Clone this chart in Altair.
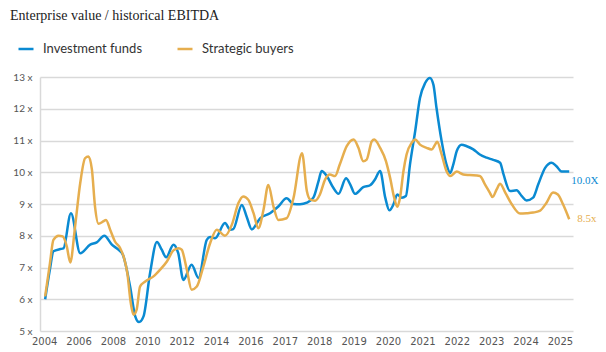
import altair as alt
import pandas as pd

title_text = "Enterprise value / historical EBITDA"
tick_labels = ["2004", "2006", "2008", "2010", "2012", "2014", "2016", "2017",
               "2018", "2019", "2020", "2021", "2022", "2023", "2024", "2025"]
series_names = ["Investment funds", "Strategic buyers"]
end_labels = ["10.0X", "8.5x"]

funds_pos = [0.03, 0.17, 0.27, 0.47, 0.56, 0.78, 1.05, 1.34, 1.53, 1.75, 1.97, 2.16, 2.29,
             2.5, 2.65, 2.76, 2.89, 3.08, 3.28, 3.42, 3.55, 3.76, 3.9, 4.05, 4.29, 4.49,
             4.73, 4.83, 4.97, 5.26, 5.41, 5.5, 5.75, 5.89, 6.04, 6.28, 6.57, 6.81, 7.05,
             7.25, 7.44, 7.64, 7.83, 7.98, 8.07, 8.22, 8.41, 8.56, 8.78, 8.9, 9.04, 9.28,
             9.48, 9.62, 9.77, 9.92, 10.04, 10.16, 10.27, 10.4, 10.52, 10.64, 10.79, 10.93,
             11.08, 11.22, 11.32, 11.41, 11.56, 11.7, 11.81, 11.9, 12.0, 12.14, 12.29,
             12.48, 12.67, 12.87, 13.06, 13.26, 13.36, 13.55, 13.74, 13.89, 14.03, 14.22,
             14.37, 14.57, 14.76, 14.9, 15.05, 15.27]
funds_val = [6.0, 6.95, 7.51, 7.58, 7.6, 8.71, 7.45, 7.72, 7.79, 8.0, 7.72, 7.56, 7.4,
             6.4, 5.46, 5.28, 5.46, 6.82, 7.8, 7.56, 7.32, 7.72, 7.45, 6.61, 7.09, 6.67,
             7.87, 7.96, 7.92, 8.4, 8.19, 8.21, 8.97, 8.6, 8.2, 8.55, 8.71, 8.92, 9.18,
             9.0, 8.99, 9.04, 9.2, 9.72, 10.04, 9.88, 9.51, 9.32, 9.81, 9.62, 9.32, 9.53,
             9.59, 9.77, 10.04, 9.2, 8.8, 8.99, 9.3, 9.2, 9.25, 10.25, 11.29, 12.34,
             12.81, 12.97, 12.76, 12.03, 10.98, 10.25, 9.98, 10.25, 10.67, 10.87, 10.82,
             10.72, 10.56, 10.46, 10.39, 10.3, 9.93, 9.41, 9.43, 9.25, 9.11, 9.2,
             9.62, 10.14, 10.3, 10.19, 10.02, 10.02]

buyers_pos = [0.03, 0.17, 0.27, 0.42, 0.54, 0.66, 0.76, 0.9, 1.05, 1.19, 1.29, 1.39, 1.48,
              1.58, 1.72, 1.8, 1.92, 2.06, 2.21, 2.31, 2.42, 2.52, 2.6, 2.69, 2.79, 2.94,
              3.18, 3.37, 3.57, 3.76, 3.91, 4.0, 4.15, 4.29, 4.44, 4.63, 4.83, 5.02, 5.26,
              5.46, 5.65, 5.79, 5.94, 6.09, 6.23, 6.38, 6.52, 6.67, 6.81, 7.05, 7.25, 7.5,
              7.64, 7.73, 7.88, 8.02, 8.17, 8.31, 8.46, 8.6, 8.8, 9.0, 9.14, 9.28, 9.38,
              9.53, 9.6, 9.77, 9.94, 10.06, 10.18, 10.27, 10.35, 10.45, 10.54, 10.69,
              10.79, 10.93, 11.12, 11.27, 11.37, 11.43, 11.56, 11.7, 11.81, 12.0, 12.19,
              12.38, 12.67, 12.82, 12.96, 13.04, 13.16, 13.26, 13.41, 13.6, 13.84, 14.03,
              14.22, 14.41, 14.61, 14.8, 14.94, 15.09, 15.27]
buyers_val = [6.09, 7.14, 7.87, 8.0, 7.98, 7.66, 7.16, 8.29, 9.66, 10.44, 10.5, 10.08, 8.92,
              8.38, 8.45, 8.5, 8.19, 7.82, 7.61, 7.35, 6.82, 5.88, 5.51, 5.67, 6.4, 6.56,
              6.72, 6.93, 7.19, 7.54, 7.61, 7.56, 6.93, 6.3, 6.4, 7.03, 7.77, 8.19, 8.0,
              8.35, 9.03, 9.24, 9.13, 8.71, 8.24, 8.82, 9.6, 8.92, 8.5, 8.55, 9.18, 10.6,
              9.41, 9.15, 9.1, 9.3, 9.77, 9.93, 9.88, 10.25, 10.82, 11.03, 10.77, 10.35, 10.4,
              10.98, 11.03, 10.77, 10.35, 9.83, 9.2, 8.91, 9.2, 10.04, 10.56, 10.93,
              11.03, 10.87, 10.77, 10.72, 10.87, 10.96, 10.56, 10.04, 9.88, 10.02, 9.93,
              9.91, 9.88, 9.62, 9.36, 9.22, 9.46, 9.64, 9.36, 8.99, 8.7, 8.71,
              8.73, 8.78, 9.04, 9.36, 9.3, 8.99, 8.52]

BLUE = "#0a8ad2"
GOLD = "#e6ae4e"

df = pd.concat([
    pd.DataFrame({"pos": funds_pos, "val": funds_val, "series": series_names[0]}),
    pd.DataFrame({"pos": buyers_pos, "val": buyers_val, "series": series_names[1]}),
])

x_scale = alt.Scale(domain=[-0.12, 15.38], nice=False, zero=False)
y_scale = alt.Scale(domain=[5, 13], nice=False, zero=False)
color_scale = alt.Scale(domain=series_names, range=[BLUE, GOLD])

label_expr = "[" + ",".join("'%s'" % t for t in tick_labels) + "][datum.value]"

x_axis = alt.Axis(values=list(range(len(tick_labels))), labelExpr=label_expr,
                  title=None, grid=False, ticks=False, domain=False,
                  labelOverlap=False, labelFlush=False,
                  labelPadding=5, labelFontSize=10, labelColor="#555555",
                  labelFont="DejaVu Sans")
y_axis = alt.Axis(values=list(range(5, 14)), labelExpr="datum.value + ' x'",
                  title=None, grid=True, gridColor="#d9d9d9", gridWidth=1.5,
                  ticks=False, domain=True, domainColor="#d9d9d9", domainWidth=1.5,
                  labelOverlap=False, labelFlush=False,
                  labelPadding=8, labelFontSize=10, labelColor="#555555",
                  labelFont="Lato")


def xe():
    return alt.X("pos:Q", scale=x_scale, axis=x_axis)


def ye():
    return alt.Y("val:Q", scale=y_scale, axis=y_axis)


lines = alt.Chart(df).mark_line(interpolate="monotone", strokeWidth=2.5).encode(
    x=xe(),
    y=ye(),
    color=alt.Color("series:N", scale=color_scale, sort=series_names,
                    legend=alt.Legend(title=None, orient="none", direction="horizontal",
                                      legendX=-23, legendY=-37, symbolType="stroke",
                                      symbolSize=225, symbolStrokeWidth=2.5,
                                      labelFontSize=13, labelFont="Lato",
                                      labelColor="#333333", columnPadding=29,
                                      labelOffset=8, padding=0)),
)

end_funds = pd.DataFrame({"pos": [funds_pos[-1]], "val": [funds_val[-1]], "t": [end_labels[0]]})
end_buyers = pd.DataFrame({"pos": [buyers_pos[-1]], "val": [buyers_val[-1]], "t": [end_labels[1]]})

lab1 = alt.Chart(end_funds).mark_text(align="left", baseline="middle", dx=2, dy=9,
                                      font="Liberation Serif", fontSize=11,
                                      color=BLUE).encode(x=xe(), y=ye(), text="t:N")
lab2 = alt.Chart(end_buyers).mark_text(align="left", baseline="middle", dx=8, dy=0,
                                       font="Liberation Serif", fontSize=11,
                                       color=GOLD).encode(x=xe(), y=ye(), text="t:N")

title = alt.Chart(pd.DataFrame({"t": [title_text]})).mark_text(
    align="left", baseline="middle", font="Liberation Serif", fontSize=14,
    color="#222222").encode(x=alt.value(-30), y=alt.value(-61), text="t:N")

chart = alt.layer(lines, lab1, lab2, title).properties(
    width=533, height=254,
    padding={"left": 40, "top": 77, "right": 33, "bottom": 21},
    autosize=alt.AutoSizeParams(type="none"),
).configure_view(stroke=None)

chart.save("out.html", embed_options={"renderer": "svg", "actions": False})
